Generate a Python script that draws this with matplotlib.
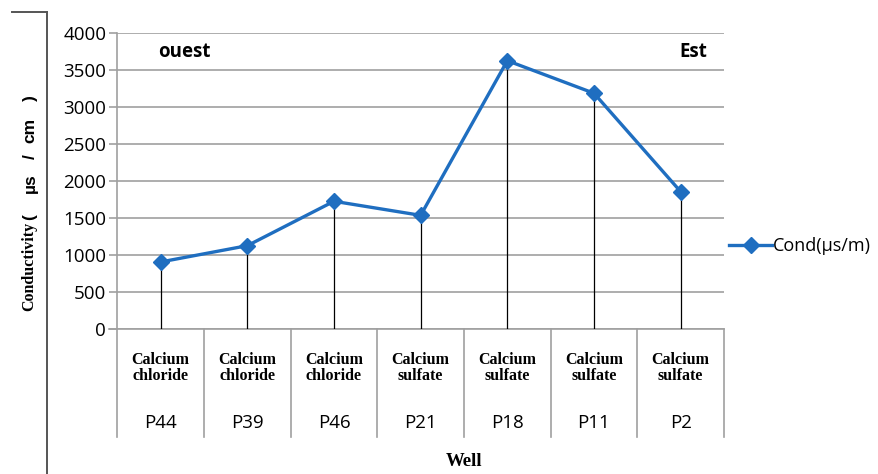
import matplotlib
matplotlib.use("Agg")
import matplotlib.pyplot as plt
from matplotlib.lines import Line2D
import matplotlib.transforms as mtransforms

# Data
wells = ["P44", "P39", "P46", "P21", "P18", "P11", "P2"]
facies = ["Calcium\nchloride", "Calcium\nchloride", "Calcium\nchloride",
          "Calcium\nsulfate", "Calcium\nsulfate", "Calcium\nsulfate", "Calcium\nsulfate"]
cond = [910, 1130, 1730, 1540, 3630, 3190, 1860]
yticks = [0, 500, 1000, 1500, 2000, 2500, 3000, 3500, 4000]

W, H = 879, 474
BLUE = "#1F6EC0"
GRID = "#A0A0A0"
SANS = ["Open Sans", "DejaVu Sans"]
SERIF = ["Liberation Serif", "DejaVu Serif"]
ARIAL = ["Liberation Sans", "DejaVu Sans"]


def fx(x):
    return x / W


def fy(y):
    return 1 - y / H


fig = plt.figure(figsize=(W / 100, H / 100), dpi=100)
x0, x1, ytop, ybot = 117.3, 724.0, 33.3, 329.3
ax = fig.add_axes([fx(x0), fy(ybot), fx(x1) - fx(x0), (ybot - ytop) / H])

x = list(range(len(wells)))
ax.set_xlim(-0.5, len(wells) - 0.5)
ax.set_ylim(0, 4000)

# horizontal gridlines
for v in yticks:
    ax.axhline(v, color=GRID, lw=1.2, zorder=1)

# drop lines from each point to the axis
ax.vlines(x, 0, cond, color="black", lw=0.9, zorder=2)

# series
ax.plot(x, cond, color=BLUE, lw=2.4, marker="D", markersize=8,
        markerfacecolor=BLUE, markeredgecolor=BLUE, zorder=3,
        label="Cond(\u00b5s/m)")

# axes styling
for s in ["top", "right", "bottom"]:
    ax.spines[s].set_visible(False)
ax.spines["left"].set_color(GRID)
ax.spines["left"].set_linewidth(1.2)
ax.set_yticks(yticks)
ax.set_yticklabels([str(v) for v in yticks], fontsize=13.5, family=SANS)
ax.tick_params(axis="y", direction="out", length=6, color=GRID, width=1.2, pad=2)
ax.set_xticks([])

# multi-level category axis
trans = mtransforms.blended_transform_factory(ax.transData, ax.transAxes)
span = ybot - ytop
low = -(437 - ybot) / span
for b in range(len(wells) + 1):
    ax.plot([b - 0.5, b - 0.5], [0, low], transform=trans, color=GRID,
            lw=1.2, clip_on=False, zorder=1)
ax.plot([-0.5 - 0.09, len(wells) - 0.5], [0, 0], transform=trans, color=GRID,
        lw=1.2, clip_on=False, zorder=1)
fac_y = -(368 - ybot) / span
well_y = -(423 - ybot) / span
for i, (w, f) in enumerate(zip(wells, facies)):
    ax.text(i, fac_y, f, transform=trans, ha="center", va="center",
            fontsize=11.5, fontweight="bold", family=SERIF, linespacing=1.05)
    ax.text(i, well_y, w, transform=trans, ha="center", va="center",
            fontsize=13.5, family=SANS)

# direction annotations
ax.text((184 - x0) / (x1 - x0), (ybot - 52) / span, "ouest",
        transform=ax.transAxes, ha="center", va="center", fontsize=13.5,
        fontweight="bold", family=SANS)
ax.text((693 - x0) / (x1 - x0), (ybot - 52) / span, "Est",
        transform=ax.transAxes, ha="center", va="center", fontsize=13.5,
        fontweight="bold", family=SANS)

# axis titles
fig.text(fx(464), fy(461), "Well", ha="center", va="center", fontsize=13.5,
         fontweight="bold", family=SERIF)
fig.text(fx(29), fy(311), "Conductivity", rotation=90, ha="center", va="bottom",
         fontsize=11.5, fontweight="bold", family=SERIF)
for txt, ypix in [("(", 217), ("\u00b5s", 183), ("/", 157), ("cm", 130), (")", 98)]:
    fig.text(fx(30), fy(ypix), txt, rotation=90, ha="center", va="center",
             fontsize=12.5, fontweight="bold", family=ARIAL)

# legend
leg = fig.legend(loc="center left", bbox_to_anchor=(fx(729), fy(246)),
                 frameon=False, handlelength=2.4, handletextpad=0.05,
                 borderaxespad=0, borderpad=0,
                 prop={"family": SANS, "size": 13})

# outer frame fragment on the left
fig.add_artist(Line2D([fx(12), fx(47)], [fy(12), fy(12)], color="#555555", lw=1.4))
fig.add_artist(Line2D([fx(47), fx(47)], [fy(12), fy(474)], color="#555555", lw=1.4))

fig.savefig("out.png", dpi=100, facecolor="white")
